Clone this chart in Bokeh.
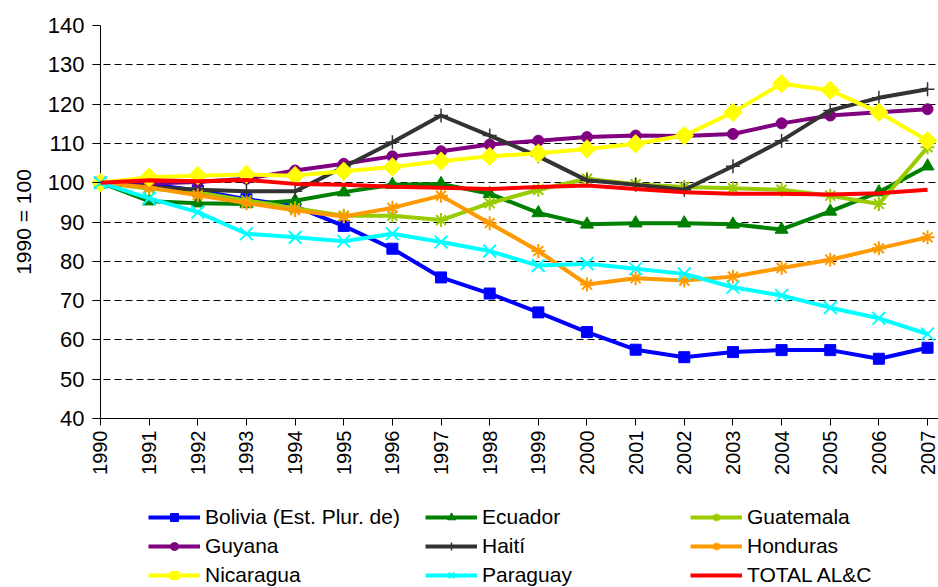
import math
from bokeh.plotting import figure
from bokeh.layouts import column
from bokeh.models import Range1d, FixedTicker, Span, Legend, LegendItem
from bokeh.embed import file_html
from bokeh.resources import INLINE

years = list(range(1990, 2008))
y_ticks = list(range(40, 141, 10))

bolivia = [100, 99.6, 98.0, 95.8, 94.0, 89.0, 83.2, 75.9, 71.8, 67.0, 62.0, 57.5, 55.6, 56.9, 57.4, 57.4, 55.2, 58.0]
ecuador = [100, 95.3, 94.8, 94.6, 95.4, 97.6, 99.5, 99.7, 97.2, 92.3, 89.4, 89.7, 89.7, 89.4, 88.1, 92.7, 97.6, 104.2]
guatemala = [100, 98.5, 97.5, 95.5, 93.5, 91.6, 91.6, 90.5, 94.8, 98.2, 101.0, 99.6, 98.9, 98.6, 98.2, 96.7, 94.6, 109.0]
guyana = [100, 99.8, 100.2, 101.0, 103.1, 104.8, 106.7, 108.0, 109.7, 110.7, 111.6, 112.0, 111.9, 112.4, 115.1, 117.1, 117.9, 118.7]
haiti = [100, 98.9, 98.2, 97.8, 97.8, 104.0, 110.3, 117.1, 112.0, 106.7, 100.6, 99.5, 98.2, 104.2, 110.7, 118.4, 121.6, 123.8]
honduras = [100, 98.8, 96.8, 94.8, 93.0, 91.4, 93.6, 96.7, 89.7, 82.6, 74.1, 75.7, 75.1, 76.1, 78.3, 80.4, 83.3, 86.1]
nicaragua = [100, 101.4, 101.8, 102.1, 101.8, 102.9, 104.0, 105.5, 106.7, 107.5, 108.6, 109.9, 112.0, 117.9, 125.2, 123.5, 117.9, 110.7]
paraguay = [100, 96.0, 92.5, 87.0, 86.1, 85.1, 87.0, 84.9, 82.6, 78.9, 79.4, 78.1, 76.8, 73.4, 71.3, 68.2, 65.5, 61.5]
total = [100, 100.6, 100.4, 100.7, 99.7, 99.5, 99.0, 98.7, 98.4, 98.9, 99.3, 98.4, 97.6, 97.2, 97.2, 97.0, 97.3, 98.2]

names = ["Bolivia (Est. Plur. de)", "Ecuador", "Guatemala", "Guyana", "Haití",
         "Honduras", "Nicaragua", "Paraguay", "TOTAL AL&C"]
values = [bolivia, ecuador, guatemala, guyana, haiti, honduras, nicaragua, paraguay, total]
colors = ["#0000FF", "#008000", "#99CC00", "#800080", "#333333",
          "#FF9900", "#FFFF00", "#00FFFF", "#FF0000"]
markers = [("square", 11, 0, 1), ("triangle", 13, 0, 1), ("asterisk", 14, 0, 2),
           ("circle", 11, 0, 1), ("cross", 14, 0, 1.5), ("asterisk", 14, 0, 2),
           ("square", 13, math.pi / 4, 1), ("x", 18, 0, 2), None]

FONT = "Liberation Sans"

p = figure(width=938, height=490, output_backend="svg", toolbar_location=None,
           title=None,
           x_range=Range1d(1989.836, 2007.225), y_range=Range1d(40, 140),
           min_border_left=92, min_border_right=0, min_border_top=25,
           min_border_bottom=72)
p.outline_line_color = None
p.background_fill_color = "white"
p.border_fill_color = "white"

# axes
p.xaxis.ticker = FixedTicker(ticks=years)
p.xaxis.major_label_orientation = math.pi / 2
p.xaxis.major_tick_out = 7
p.xaxis.major_tick_in = 0
p.xaxis.minor_tick_out = 0
p.xaxis.minor_tick_in = 0
p.xaxis.axis_line_color = "black"
p.xaxis.major_tick_line_color = "black"
p.xaxis.major_label_standoff = 5
p.xaxis.major_label_text_font = FONT
p.xaxis.major_label_text_font_size = "20px"
p.xaxis.major_label_text_color = "black"

p.yaxis.ticker = FixedTicker(ticks=y_ticks)
p.yaxis.major_tick_in = 8
p.yaxis.major_tick_out = 0
p.yaxis.minor_tick_in = 0
p.yaxis.minor_tick_out = 0
p.yaxis.axis_line_color = None
p.yaxis.major_tick_line_color = "black"
p.yaxis.major_label_standoff = 8
p.yaxis.major_label_text_font = FONT
p.yaxis.major_label_text_font_size = "22px"
p.yaxis.major_label_text_color = "black"
p.yaxis.axis_label = "1990 = 100"
p.yaxis.axis_label_text_font = FONT
p.yaxis.axis_label_text_font_size = "21px"
p.yaxis.axis_label_text_font_style = "normal"
p.yaxis.axis_label_text_color = "black"
p.yaxis.axis_label_standoff = 10

p.xgrid.visible = False
p.ygrid.grid_line_color = "black"
p.ygrid.grid_line_dash = "7 4"
p.ygrid.grid_line_width = 1

p.add_layout(Span(location=1990, dimension="height", line_color="black",
                  line_width=1, level="underlay"))

for name, vals, col, mk in zip(names, values, colors, markers):
    p.line(years, vals, line_color=col, line_width=4)
    if mk is not None:
        mname, msize, mangle, mlw = mk
        p.scatter(years, vals, marker=mname, size=msize, angle=mangle,
                  fill_color=col, line_color=col, line_width=mlw)

# legend panel (separate figure below the chart; its frame aligns with the chart frame)
lp = figure(width=938, height=97, output_backend="svg", toolbar_location=None,
            title=None, x_axis_type=None, y_axis_type=None,
            x_range=Range1d(0, 1), y_range=Range1d(0, 1),
            min_border_left=0, min_border_right=0, min_border_top=0,
            min_border_bottom=0)
lp.outline_line_color = None
lp.xgrid.visible = False
lp.ygrid.grid_line_visible = False

items = []
for name, vals, col, mk in zip(names, values, colors, markers):
    # proxy renderers for the legend (their single point lies outside this panel's range)
    rs = [lp.line(x=years[:1], y=vals[:1], line_color=col, line_width=4)]
    if mk is not None:
        mname, msize, mangle, mlw = mk
        rs.append(lp.scatter(x=years[:1], y=vals[:1], marker=mname, size=msize,
                             angle=mangle, fill_color=col, line_color=col,
                             line_width=mlw))
    items.append(LegendItem(label=name, renderers=rs))

col_x = [56, 333, 598]
for c in range(3):
    lg = Legend(items=[items[c], items[c + 3], items[c + 6]],
                location=(col_x[c], 0), orientation="vertical",
                glyph_width=52, glyph_height=20, label_standoff=5,
                label_height=24,
                label_text_font=FONT, label_text_font_size="21px",
                label_text_color="black", padding=0, margin=0, spacing=5,
                border_line_color=None, background_fill_alpha=0)
    lp.add_layout(lg)

layout = column(p, lp, spacing=0)
open("out.html", "w").write(file_html(layout, INLINE))
